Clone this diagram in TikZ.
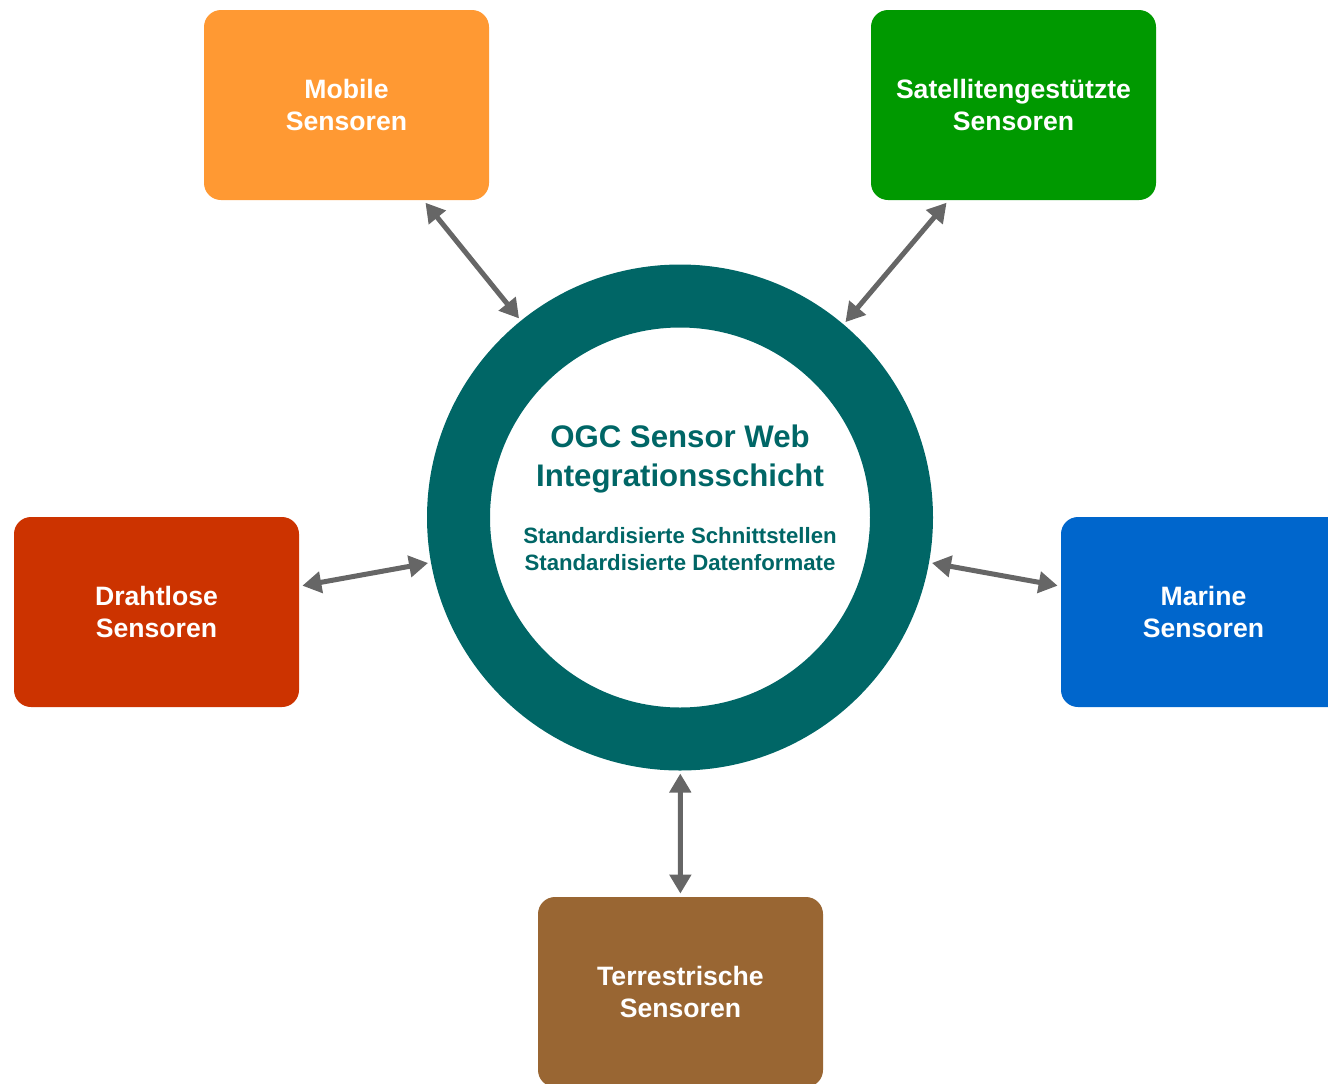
\documentclass[tikz,border=0pt]{standalone}
\usepackage{fontspec}
\setmainfont{Liberation Sans}
\usetikzlibrary{arrows.meta}
\definecolor{ringteal}{HTML}{006666}
\definecolor{mobileorange}{HTML}{FF9933}
\definecolor{satgreen}{HTML}{009900}
\definecolor{wirelessred}{HTML}{CC3300}
\definecolor{marineblue}{HTML}{0066CC}
\definecolor{earthbrown}{HTML}{996633}
\definecolor{linkgray}{HTML}{666666}
\begin{document}
\begin{tikzpicture}[x=0.5pt,y=-0.5pt,
  sensorbox/.style={rectangle, rounded corners=8.5pt, minimum width=142.5pt, minimum height=95pt,
    text=white, align=center, font=\fontsize{13.3}{16}\selectfont\bfseries},
  biarrow/.style={draw=linkgray, line width=2.5pt,
    {Triangle[length=9.5pt,width=10.5pt]}-{Triangle[length=9.5pt,width=10.5pt]},
    shorten <=1.5pt, shorten >=1.5pt}]
\useasboundingbox (0,0) rectangle (1328,1083);
\node[circle, draw=ringteal, line width=31.5pt, minimum size=221.5pt, inner sep=0pt] (ogc) at (680,517.5) {};
\node[text=ringteal, align=center, font=\fontsize{15.6}{19.5}\selectfont\bfseries] (title) at (680,459)
  {OGC Sensor Web\\Integrationsschicht};
\node[text=ringteal, align=center, font=\fontsize{11.1}{13.5}\selectfont\bfseries] (subtitle) at (680,549)
  {Standardisierte Schnittstellen\\Standardisierte Datenformate};
\node[sensorbox, fill=mobileorange] (mobile) at (346.5,105) {Mobile\\Sensoren};
\node[sensorbox, fill=satgreen] (sat) at (1013.5,105) {Satellitengestützte\\Sensoren};
\node[sensorbox, fill=wirelessred] (wireless) at (156.5,612) {Drahtlose\\Sensoren};
\node[sensorbox, fill=marineblue] (marine) at (1203.5,612) {Marine\\Sensoren};
\node[sensorbox, fill=earthbrown] (terrestrial) at (680.5,992) {Terrestrische\\Sensoren};
\draw[biarrow] (mobile) -- (ogc);
\draw[biarrow] ([xshift=-32.5pt]sat.south) -- (ogc);
\draw[biarrow] (wireless) -- (ogc);
\draw[biarrow] (marine) -- (ogc);
\draw[biarrow] (terrestrial) -- (ogc);
\end{tikzpicture}
\end{document}
